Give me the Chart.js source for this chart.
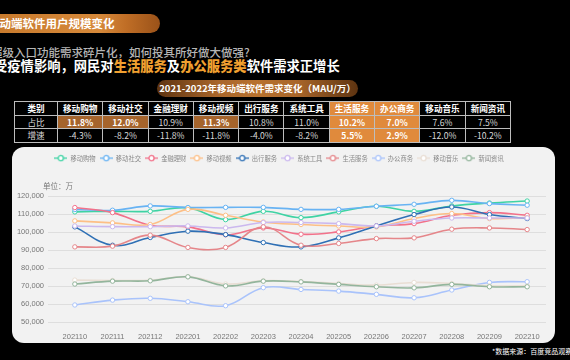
<!DOCTYPE html>
<html>
<head>
<meta charset="utf-8">
<script src="https://cdn.jsdelivr.net/npm/chart.js@4.4.0/dist/chart.umd.min.js"></script>
<style>
  body { margin: 0; width: 570px; height: 360px; background: #000; overflow: hidden; position: relative;
         font-family: "Noto Sans CJK SC", "Noto Sans", sans-serif; }
  .pill { position: absolute; left: -30px; top: 14px; width: 190px; height: 19px; border-radius: 10px;
          background: linear-gradient(90deg, #c47629 0%, #d6893a 68%, #c06e26 82%, #9a5219 100%); }
  .pill span { position: absolute; left: 18px; top: 0; line-height: 19px; color: #fff; font-weight: bold; font-size: 11.5px; white-space: nowrap; }
  .sub { position: absolute; left: -9px; top: 46px; line-height: 13px; font-size: 11.5px; color: #b5b5b5; white-space: nowrap; font-weight: 500; }
  .head { position: absolute; left: -6px; top: 59px; line-height: 14px; font-size: 13.3px; color: #fff; font-weight: bold; white-space: nowrap; }
  .head b { color: #f0a030; }
  .tpill { position: absolute; left: 157px; top: 80px; width: 201px; height: 17px; border-radius: 9px;
           background: linear-gradient(90deg, #5e3411 0%, #a8652a 30%, #b8722f 50%, #a8652a 70%, #5e3411 100%);
           color: #fff; font-weight: bold; font-size: 9.5px; line-height: 17px; text-align: center; }
  table { position: absolute; left: 14px; top: 101px; border-collapse: collapse; table-layout: fixed; }
  td { border: 1px solid #bdbdbd; height: 12.6px; padding: 0; text-align: center; font-size: 8.6px; line-height: 12px; color: #d8d8d8; }
  tr:first-child td { color: #fff; font-weight: bold; }
  td.brown { background: #a5642c; color: #fff; font-weight: bold; }
  td.orange { background: #e08a3c; color: #fff; font-weight: bold; }
  .panel { position: absolute; left: 12px; top: 147px; width: 543px; height: 196px; background: #f2f2f2; border-radius: 12px; }
  .unit { position: absolute; left: 31px; top: 33px; font-size: 7.5px; color: #777; }
  .note { position: absolute; left: 492px; top: 346px; font-size: 7px; color: #fff; white-space: nowrap; }
</style>
</head>
<body>
<div class="pill"><span>移动端软件用户规模变化</span></div>
<div class="sub">超级入口功能需求碎片化，如何投其所好做大做强?</div>
<div class="head">受疫情影响，网民对<b>生活服务</b>及<b>办公服务类</b>软件需求正增长</div>
<div class="tpill">2021-2022年移动端软件需求变化（MAU/万）</div>
<table id="tbl"></table>
<div class="panel">
  <canvas id="lineChart" width="543" height="196"></canvas>
  <div class="unit">单位：万</div>
</div>
<div class="note">*数据来源：百度竞品观察</div>

<script>
// 表格
const categories = ['移动购物', '移动社交', '金融理财', '移动视频', '出行服务', '系统工具', '生活服务', '办公商务', '移动音乐', '新闻资讯'];
const share = ['11.8%', '12.0%', '10.9%', '11.3%', '10.8%', '11.0%', '10.2%', '7.0%', '7.6%', '7.5%'];
const growth = ['-4.3%', '-8.2%', '-11.8%', '-11.8%', '-4.0%', '-8.2%', '5.5%', '2.9%', '-12.0%', '-10.2%'];

// 折线 (x축)
const months = ['202110', '202111', '202112', '202201', '202202', '202203', '202204',
                '202205', '202206', '202207', '202208', '202209', '202210'];
const shopping = [111200, 111500, 111500, 113400, 106900, 111500, 108000, 111200, 114300, 111500, 114500, 116100, 117200];
const social   = [112500, 112100, 114500, 113600, 113700, 113700, 112600, 112600, 114300, 115400, 117600, 115800, 114900];
const finance  = [113600, 110800, 103800, 102900, 98500, 102300, 98800, 100100, 103400, 104700, 109300, 110800, 109300];
const video    = [106200, 105100, 104200, 112600, 109300, 105600, 104200, 103400, 102900, 107500, 110300, 107500, 108000];
const travel   = [102900, 92700, 97000, 100500, 98600, 94200, 91800, 96800, 103400, 109700, 113900, 109700, 107500];
const tools    = [103400, 103000, 103000, 103400, 102300, 105300, 105300, 104700, 103400, 106000, 107800, 107800, 107800];
const life     = [91800, 92200, 98300, 91500, 91500, 102900, 92700, 93700, 96400, 96800, 101600, 102300, 101400];
const office   = [59600, 62300, 63300, 61400, 59200, 69200, 68200, 67300, 65500, 63600, 67900, 72100, 72500];
const music    = [73400, 73200, 73300, 75300, 71200, 73000, 72600, 71500, 70600, 72100, 71500, 70200, 70200];
const news     = [71200, 72800, 73000, 75200, 70200, 72800, 72400, 71000, 69700, 69100, 71000, 69700, 69700];

const seriesData = [shopping, social, finance, video, travel, tools, life, office, music, news];
const colors = ['#3fd3a4', '#68b3f3', '#f2718a', '#fdbf86', '#2f70b5', '#cbb8ee', '#e5868a', '#a9c3fb', '#e9ded4', '#93b59c'];

// table build
const brownCols = [0, 1, 3];
const orangeCols = [6, 7];
let html = '<colgroup><col style="width:43px">' + categories.map(() => '<col style="width:45.3px">').join('') + '</colgroup>';
html += '<tr><td>类别</td>' + categories.map((c, i) => `<td class="${orangeCols.includes(i) ? 'orange' : ''}">${c}</td>`).join('') + '</tr>';
html += '<tr><td>占比</td>' + share.map((v, i) => {
  let cls = orangeCols.includes(i) ? 'orange' : (brownCols.includes(i) ? 'brown' : '');
  return `<td class="${cls}">${v}</td>`;
}).join('') + '</tr>';
html += '<tr><td>增速</td>' + growth.map((v, i) => `<td class="${orangeCols.includes(i) ? 'orange' : ''}">${v}</td>`).join('') + '</tr>';
document.getElementById('tbl').innerHTML = html;

// legend icon: line + hollow circle
function legendIcon(color) {
  const c = document.createElement('canvas');
  c.width = 13; c.height = 8;
  const g = c.getContext('2d');
  g.strokeStyle = color;
  g.lineWidth = 1.3;
  g.beginPath(); g.moveTo(0, 4); g.lineTo(13, 4); g.stroke();
  g.beginPath(); g.arc(6.5, 4, 2.6, 0, Math.PI * 2);
  g.fillStyle = '#fff'; g.fill(); g.stroke();
  return c;
}

const datasets = categories.map((name, i) => ({
  label: name,
  data: seriesData[i],
  borderColor: colors[i],
  backgroundColor: colors[i],
  borderWidth: 1.6,
  tension: 0.4,
  pointRadius: 2.2,
  pointBorderWidth: 1,
  pointBackgroundColor: '#fff',
  pointBorderColor: colors[i],
  order: categories.length - i,
}));

const legendHeight = {
  id: 'legendHeight',
  beforeInit(chart) {
    const fit = chart.legend.fit;
    chart.legend.fit = function () {
      fit.bind(chart.legend)();
      this.height = 45;
    };
  }
};

const config = {
  type: 'line',
  data: { labels: months, datasets: datasets },
  options: {
    responsive: false,
    animation: false,
    layout: { padding: { left: 0, right: 9, top: 4, bottom: 0 } },
    plugins: {
      tooltip: { enabled: false },
      legend: {
        display: true,
        position: 'top',
        labels: {
          color: '#888',
          font: { size: 6.3, family: '"Noto Sans CJK SC"' },
          usePointStyle: true,
          pointStyleWidth: 13,
          padding: 4,
          generateLabels(chart) {
            return chart.data.datasets.map((ds, i) => ({
              text: ds.label,
              fillStyle: '#fff',
              strokeStyle: ds.borderColor,
              pointStyle: legendIcon(ds.borderColor),
              fontColor: '#888',
              datasetIndex: i,
              hidden: false,
            }));
          }
        }
      }
    },
    scales: {
      x: {
        offset: true,
        grid: { display: false },
        border: { display: false },
        ticks: { color: '#777', font: { size: 7.5 }, padding: 2, maxRotation: 0, autoSkip: false },
        afterFit(s) { s.height = 20.7; }
      },
      y: {
        min: 50000,
        max: 120000,
        border: { display: false },
        grid: { color: '#dedede', lineWidth: 1 },
        ticks: { stepSize: 10000, color: '#777', font: { size: 7.5 }, padding: 4 },
        afterFit(s) { s.width = 44; }
      }
    }
  },
  plugins: [legendHeight]
};

const lineChart = new Chart(document.getElementById('lineChart').getContext('2d'), config);
</script>
</body>
</html>
